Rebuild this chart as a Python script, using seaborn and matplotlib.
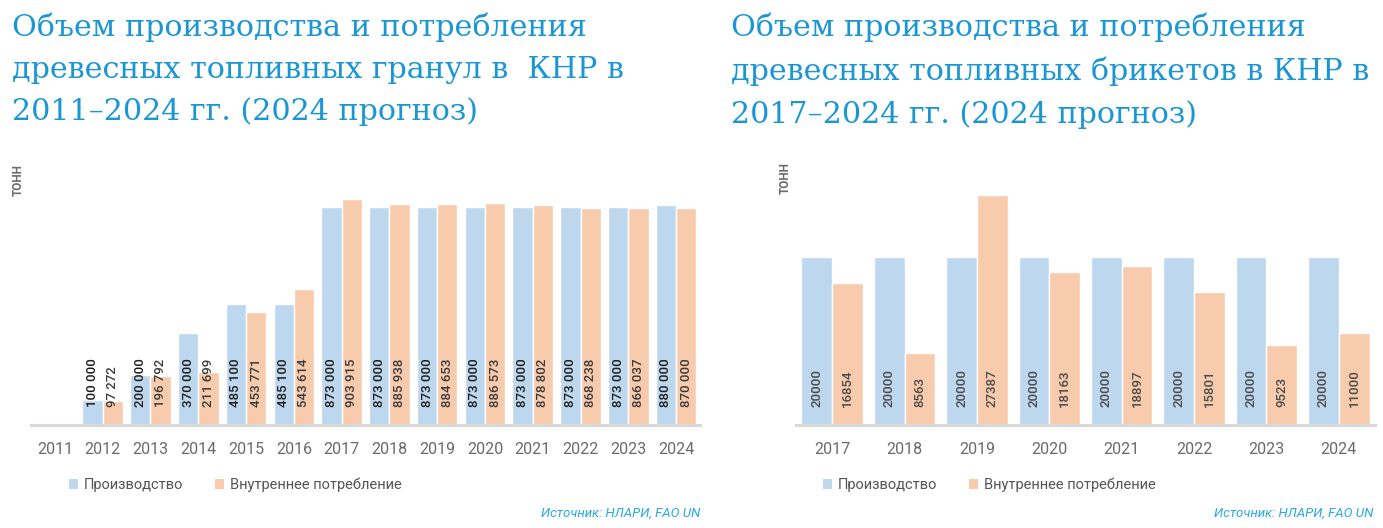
import numpy as np
import pandas as pd
import matplotlib.pyplot as plt
from matplotlib.patches import Patch
import seaborn as sns

# data
pellet_years = [str(y) for y in range(2011, 2025)]
pellet_prod = [None, 100000, 200000, 370000, 485100, 485100, 873000,
               873000, 873000, 873000, 873000, 873000, 873000, 880000]
pellet_cons = [None, 97272, 196792, 211699, 453771, 543614, 903915,
               885938, 884653, 886573, 878802, 868238, 866037, 870000]

briq_years = [str(y) for y in range(2017, 2025)]
briq_prod = [20000, 20000, 20000, 20000, 20000, 20000, 20000, 20000]
briq_cons = [16854, 8563, 27387, 18163, 18897, 15801, 9523, 11000]

series = ["Производство", "Внутреннее потребление"]
colors = ["#bdd7ee", "#f8cbad"]

title_left = ("Объем производства и потребления\n"
              "древесных топливных гранул в  КНР в\n"
              "2011–2024 гг. (2024 прогноз)")
title_right = ("Объем производства и потребления\n"
               "древесных топливных брикетов в КНР в\n"
               "2017–2024 гг. (2024 прогноз)")
source = "Источник: НЛАРИ, FAO UN"
unit = "ТОНН"

sns.set_theme(style="white")
plt.rcParams["font.family"] = ["Roboto", "DejaVu Sans"]

blue_title = "#1b96d4"
gray = "#6a6a6a"


def long_table(years, prod, cons):
    return pd.DataFrame({
        "year": years * 2,
        "series": [series[0]] * len(years) + [series[1]] * len(years),
        "value": pd.array(prod + cons, dtype="Float64").astype(float),
    })


def draw(ax, df, years, ymax, fmt, label_colors):
    sns.barplot(data=df, x="year", y="value", hue="series", order=years,
                hue_order=series, palette=colors, saturation=1, width=0.85,
                errorbar=None, legend=False, ax=ax)
    ax.set_xlim(-0.5, len(years) - 0.5)
    ax.set_ylim(0, ymax)
    ax.set_xlabel("")
    ax.set_ylabel("")
    ax.set_yticks([])
    for s in ["top", "right", "left"]:
        ax.spines[s].set_visible(False)
    ax.spines["bottom"].set_color("#d9d9d9")
    ax.spines["bottom"].set_linewidth(2.2)
    ax.tick_params(axis="x", length=0, pad=12, labelsize=11.5, labelcolor=gray)
    for cont, col in zip(ax.containers, label_colors):
        for bar, val in zip(cont, cont.datavalues):
            if np.isnan(val):
                continue
            ax.annotate(fmt(val), (bar.get_x() + bar.get_width() / 2, 0),
                        xytext=(0, 13), textcoords="offset points",
                        rotation=90, ha="center", va="bottom",
                        fontsize=9.5, color=col, fontweight="medium")
    return [Patch(facecolor=c, edgecolor="none") for c in colors]


fig = plt.figure(figsize=(13.83, 5.28), dpi=100)
ax1 = fig.add_axes([31 / 1383, 103 / 528, 669 / 1383, 250 / 528])
ax2 = fig.add_axes([796 / 1383, 103 / 528, 579 / 1383, 250 / 528])

df1 = long_table(pellet_years, pellet_prod, pellet_cons)
df2 = long_table(briq_years, briq_prod, briq_cons)

h1 = draw(ax1, df1, pellet_years, 1000000,
          lambda v: f"{int(v):,}".replace(",", " "), ["#1e1e1e", "#3a3a3a"])
h2 = draw(ax2, df2, briq_years, 29760,
          lambda v: f"{int(v)}", ["#4a4a4a", "#4a4a4a"])

for ax, h, x0 in [(ax1, h1, 38 / 669), (ax2, h2, 27 / 579)]:
    ax.legend(h, series, loc="center left", bbox_to_anchor=(x0, -0.24),
              ncol=2, frameon=False, handlelength=0.6, handleheight=0.6,
              handletextpad=0.4, columnspacing=2.2, fontsize=10.5,
              labelcolor="#555555", borderpad=0, borderaxespad=0)

for x, title in [(12, title_left), (731, title_right)]:
    fig.text(x / 1383, 1 - 13 / 528, title,
             ha="left", va="top", fontsize=21.7, color=blue_title,
             linespacing=1.6, family=["DejaVu Serif"])

fig.text(18 / 1383, 1 - 180 / 528, unit, rotation=90, ha="center",
         va="center", fontsize=8.5, color=gray, fontweight="bold")
fig.text(785 / 1383, 1 - 178 / 528, unit, rotation=90, ha="center",
         va="center", fontsize=8.5, color=gray, fontweight="bold")

fig.text(700 / 1383, 1 - 513 / 528, source, ha="right", va="center",
         fontsize=9.5, color="#29aae2", style="italic")
fig.text(1373 / 1383, 1 - 513 / 528, source, ha="right", va="center",
         fontsize=9.5, color="#29aae2", style="italic")

fig.savefig("out.png", dpi=100)
